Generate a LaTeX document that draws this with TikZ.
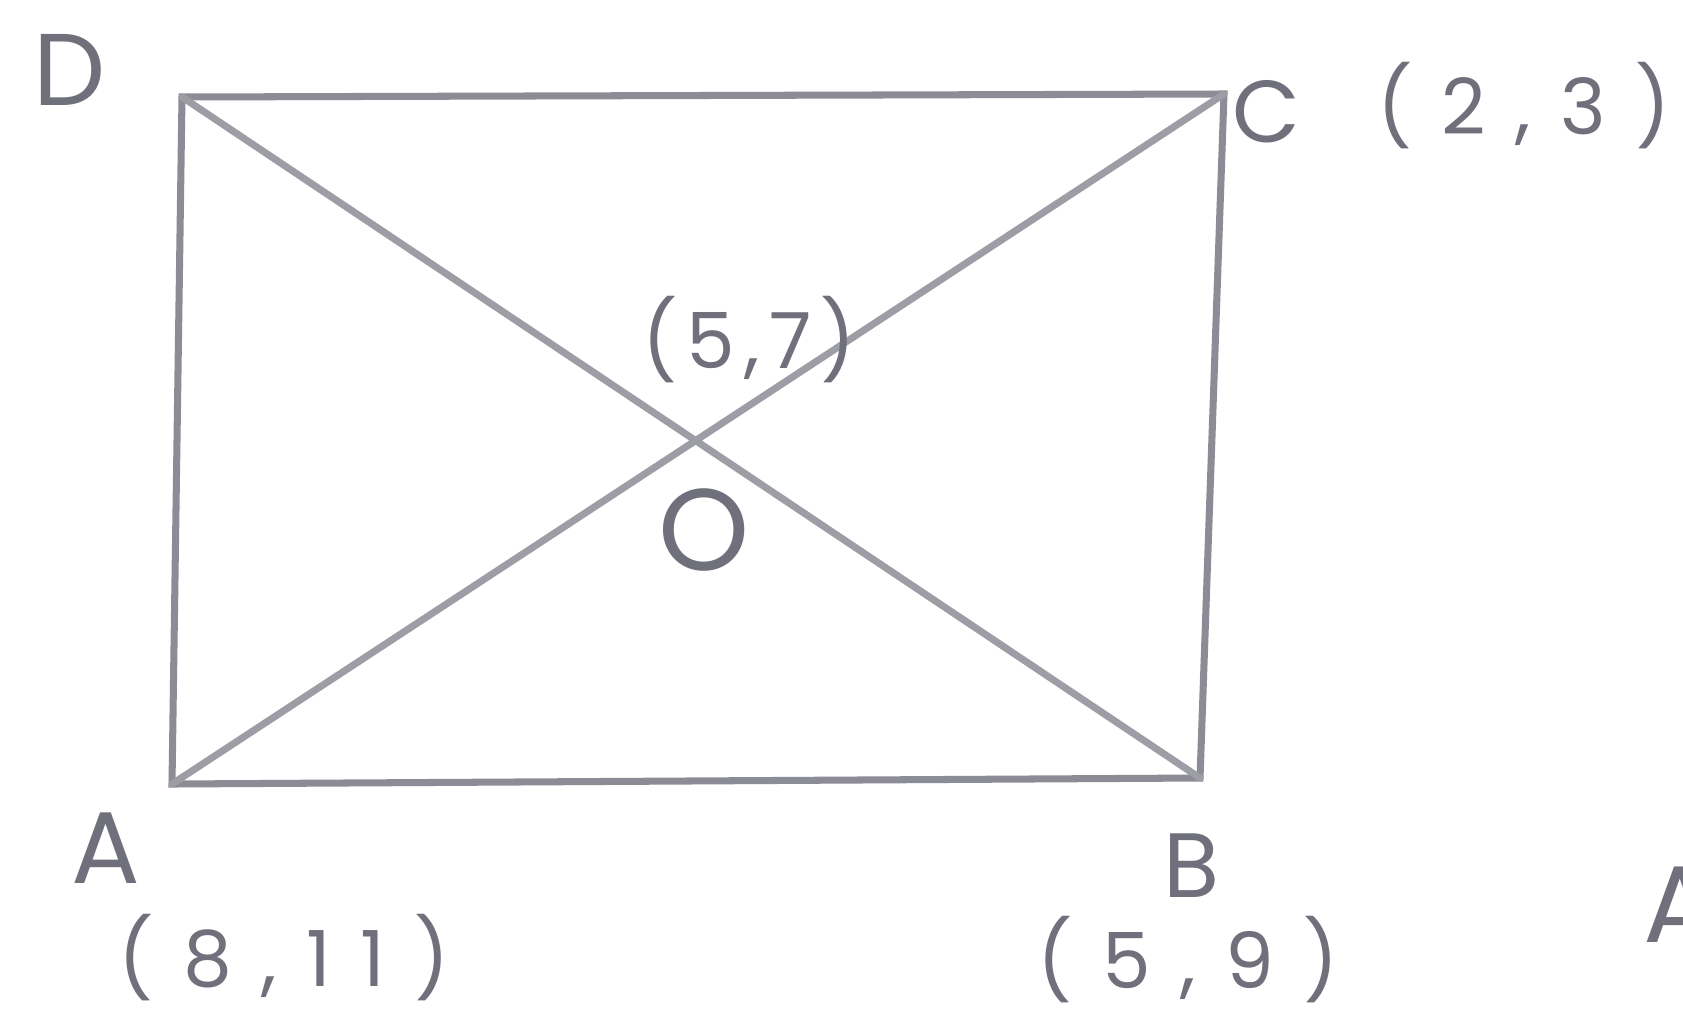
\documentclass[tikz,border=0pt]{standalone}
\usepackage{fontspec}
\usepackage{tikz}
\usetikzlibrary{positioning}
\newfontfamily\handfont{Poppins}[LetterSpace=12]
\newfontfamily\widefont{Poppins}[LetterSpace=38]
\definecolor{penclr}{RGB}{140,140,150}
\definecolor{inkclr}{RGB}{112,112,124}
\tikzset{
  side/.style={draw=penclr,line width=2pt,line cap=round},
  diag/.style={side,draw=penclr!85},
  vlabel/.style={text=inkclr,inner sep=0pt,font=\handfont\fontsize{29}{32}\selectfont},
  clabel/.style={vlabel,font=\widefont\fontsize{22}{24}\selectfont},
  mlabel/.style={vlabel,font=\handfont\fontsize{22}{24}\selectfont},
  olabel/.style={vlabel,font=\handfont\fontsize{33}{36}\selectfont},
}

\begin{document}
\begin{tikzpicture}[x=0.01cm, y=-0.01cm]
\clip (0,0) rectangle (1683,1012);
\fill[white] (0,0) rectangle (1683,1012);

% corners
\coordinate (D) at (182,97);
\coordinate (C) at (1224,94);
\coordinate (B) at (1200,778);
\coordinate (A) at (172,784);

\draw[side] (D) -- (C) -- (B) -- (A) -- cycle;
\draw[diag] (D) -- (B);
\draw[diag] (A) -- (C);

% labels
\node[vlabel] (dl) at (70,70) {D};
\node[vlabel,font=\handfont\fontsize{25}{28}\selectfont] (cl) at (1266,112) {C};
\node[clabel] (cc) at (1524,106) {(2,3)};
\node[mlabel] (oc) at (749,340) {(5,7)};
\node[olabel] (ol) at (704,530) {O};
\node[vlabel] (al) at (106,848) {A};
\node[clabel] (ac) at (284,958) {(8,11)};
\node[vlabel,font=\handfont\fontsize{26}{28}\selectfont] (bl) at (1191,866) {B};
\node[clabel] (bc) at (1188,960) {(5,9)};
\node[vlabel,font=\handfont\fontsize{31}{32}\selectfont] (ex) at (1680,905) {A};
\end{tikzpicture}
\end{document}
